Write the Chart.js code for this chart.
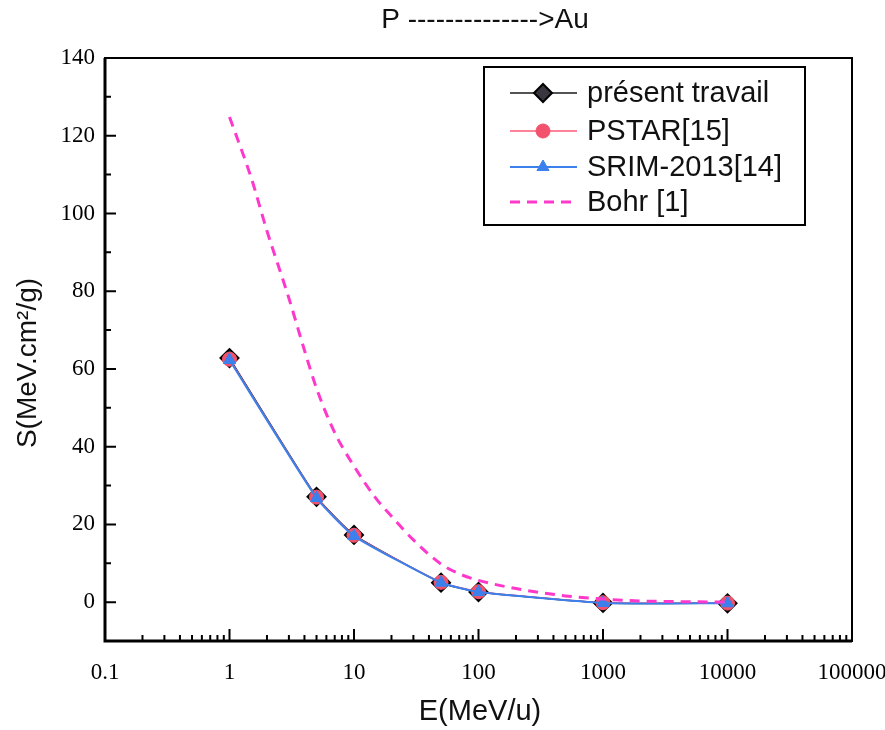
<!DOCTYPE html>
<html>
<head>
<meta charset="utf-8">
<script src="https://cdn.jsdelivr.net/npm/chart.js@4"></script>
<style>
  html, body { margin: 0; padding: 0; background: #fff; }
</style>
</head>
<body>
<canvas id="chart" width="885" height="730"></canvas>
<script>
// values
var energies = [1, 5, 10, 50, 100, 1000, 10000];
var presentTravail = [62.8, 27.1, 17.3, 5.0, 2.6, -0.2, -0.3];
var pstar = [62.5, 27.0, 17.2, 5.1, 2.7, -0.15, -0.25];
var srim = [62.3, 26.8, 17.0, 5.0, 2.6, -0.2, -0.3];
var bohrEnergies = [1, 1.5, 2, 3, 4, 5, 7, 10, 15, 20, 30, 50, 70, 100, 200, 500, 1000, 2000, 5000, 10000];
var bohr = [124.8, 109, 95.5, 78.2, 64.8, 55, 43.6, 35, 26.7, 22.1, 16.0, 9.8, 7.3, 5.6, 3.5, 1.6, 0.8, 0.3, 0.1, 0];
var xTicks = [0.1, 1, 10, 100, 1000, 10000, 100000];
var yTicks = [0, 20, 40, 60, 80, 100, 120, 140];
var yMinorTicks = [10, 30, 50, 70, 90, 110, 130];
var seriesNames = ['présent travail', 'PSTAR[15]', 'SRIM-2013[14]', 'Bohr [1]'];

function toPoints(xs, ys) {
    return xs.map(function (x, i) { return { x: x, y: ys[i] }; });
}

var sans = 'Liberation Sans, Arial, sans-serif';
var serif = 'Liberation Serif, Times New Roman, serif';

// frame, inward ticks, titles and the boxed legend
var decorPlugin = {
    id: 'decor',
    afterDraw: function (chart) {
        var ctx = chart.ctx;
        var a = chart.chartArea;
        var xs = chart.scales.x, ys = chart.scales.y;
        ctx.save();
        ctx.strokeStyle = '#000';

        // box
        ctx.lineWidth = 2;
        ctx.strokeRect(a.left, a.top, a.right - a.left, a.bottom - a.top);
        ctx.lineWidth = 3;
        ctx.beginPath();
        ctx.moveTo(a.left, a.top);
        ctx.lineTo(a.left, a.bottom);
        ctx.lineTo(a.right, a.bottom);
        ctx.stroke();

        // y ticks pointing inside
        ctx.lineWidth = 2;
        ctx.beginPath();
        yTicks.forEach(function (v) {
            var py = ys.getPixelForValue(v);
            ctx.moveTo(a.left, py); ctx.lineTo(a.left + 11, py);
        });
        yMinorTicks.forEach(function (v) {
            var py = ys.getPixelForValue(v);
            ctx.moveTo(a.left, py); ctx.lineTo(a.left + 6, py);
        });
        // x ticks pointing inside
        xTicks.forEach(function (v) {
            var px = xs.getPixelForValue(v);
            ctx.moveTo(px, a.bottom); ctx.lineTo(px, a.bottom - 12);
        });
        for (var d = 0; d < xTicks.length - 1; d++) {
            for (var k = 2; k < 10; k++) {
                var px = xs.getPixelForValue(xTicks[d] * k);
                ctx.moveTo(px, a.bottom); ctx.lineTo(px, a.bottom - 6);
            }
        }
        ctx.stroke();

        // titles
        ctx.fillStyle = '#111';
        ctx.textAlign = 'center';
        ctx.textBaseline = 'middle';
        ctx.font = '28px ' + sans;
        ctx.fillText('P -------------->Au', 485, 20);
        ctx.font = '29px ' + sans;
        ctx.fillText('E(MeV/u)', 480, 712);
        ctx.save();
        ctx.translate(28, 363);
        ctx.rotate(-Math.PI / 2);
        ctx.font = '28px ' + sans;
        ctx.fillText('S(MeV.cm²/g)', 0, 0);
        ctx.restore();

        // legend
        var box = { left: 484, top: 67, right: 805, bottom: 225 };
        ctx.lineWidth = 2;
        ctx.strokeRect(box.left, box.top, box.right - box.left, box.bottom - box.top);
        var rows = [93, 131, 167, 202];
        ctx.textAlign = 'left';
        ctx.font = '29px ' + sans;
        chart.data.datasets.forEach(function (ds, i) {
            var y = rows[i];
            ctx.save();
            ctx.strokeStyle = ds.borderColor;
            ctx.lineWidth = ds.borderWidth;
            ctx.setLineDash(ds.borderDash || []);
            ctx.beginPath();
            ctx.moveTo(510, y); ctx.lineTo(577, y);
            ctx.stroke();
            ctx.setLineDash([]);
            if (ds.pointRadius > 0) {
                ctx.fillStyle = ds.pointBackgroundColor;
                ctx.strokeStyle = ds.pointBorderColor;
                ctx.lineWidth = ds.pointBorderWidth;
                Chart.helpers.drawPoint(ctx, {
                    pointStyle: ds.pointStyle, radius: ds.pointRadius,
                    rotation: 0, borderWidth: ds.pointBorderWidth
                }, 543, y);
            }
            ctx.restore();
            ctx.fillStyle = '#111';
            ctx.fillText(ds.label, 587, y + 1);
        });
        ctx.restore();
    }
};

new Chart(document.getElementById('chart'), {
    type: 'line',
    data: {
        datasets: [
            {
                label: seriesNames[0],
                data: toPoints(energies, presentTravail),
                borderColor: '#1a1a1a', borderWidth: 1.5,
                pointStyle: 'rectRot', pointRadius: 9,
                pointBackgroundColor: '#3a3640', pointBorderColor: '#000', pointBorderWidth: 2,
                tension: 0.15, order: 4
            },
            {
                label: seriesNames[1],
                data: toPoints(energies, pstar),
                borderColor: '#ff5a78', borderWidth: 1.5,
                pointStyle: 'circle', pointRadius: 7,
                pointBackgroundColor: '#f2526c', pointBorderColor: '#f2526c', pointBorderWidth: 1,
                tension: 0.15, order: 3
            },
            {
                label: seriesNames[2],
                data: toPoints(energies, srim),
                borderColor: '#3b80ec', borderWidth: 2,
                pointStyle: 'triangle', pointRadius: 7,
                pointBackgroundColor: '#3b80ec', pointBorderColor: '#3b80ec', pointBorderWidth: 1,
                tension: 0.15, order: 2
            },
            {
                label: seriesNames[3],
                data: toPoints(bohrEnergies, bohr),
                borderColor: '#ff38cc', borderWidth: 3, borderDash: [10, 7],
                pointRadius: 0,
                cubicInterpolationMode: 'monotone', order: 1
            }
        ]
    },
    options: {
        responsive: false,
        animation: false,
        layout: { padding: { top: 58, right: 33, left: 0, bottom: 0 } },
        plugins: {
            legend: { display: false },
            title: { display: false },
            tooltip: { enabled: false }
        },
        scales: {
            x: {
                type: 'logarithmic', min: 0.1, max: 100000,
                afterBuildTicks: function (s) { s.ticks = xTicks.map(function (v) { return { value: v }; }); },
                afterFit: function (s) { s.height = 89; s.paddingLeft = 0; s.paddingRight = 0; },
                grid: { display: false, drawTicks: false },
                border: { display: false },
                ticks: {
                    padding: 18, color: '#000', autoSkip: false, maxRotation: 0,
                    font: { family: serif, size: 23 },
                    callback: function (v) { return String(v); }
                }
            },
            y: {
                min: -10, max: 140,
                afterBuildTicks: function (s) { s.ticks = yTicks.map(function (v) { return { value: v }; }); },
                afterFit: function (s) { s.width = 105; s.paddingTop = 0; s.paddingBottom = 0; },
                grid: { display: false, drawTicks: false },
                border: { display: false },
                ticks: {
                    padding: 10, color: '#000',
                    font: { family: serif, size: 23 }
                }
            }
        }
    },
    plugins: [decorPlugin]
});
</script>
</body>
</html>
